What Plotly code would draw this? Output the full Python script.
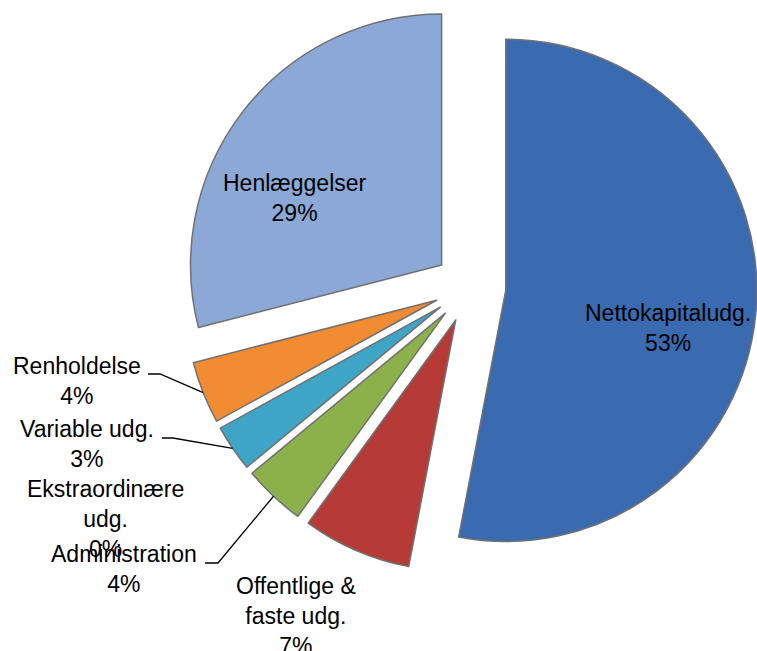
import math
import plotly.graph_objects as go

# ---- data ----
labels = ["Nettokapitaludg.", "Offentlige & faste udg.", "Administration",
          "Ekstraordinære udg.", "Variable udg.", "Renholdelse", "Henlæggelser"]
values = [53, 7, 4, 0, 3, 4, 29]
label_text = ["Nettokapitaludg.", "Offentlige &<br>faste udg.", "Administration",
              "Ekstraordinære<br>udg.", "Variable udg.", "Renholdelse", "Henlæggelser"]
colors = ["#3A6BB0", "#B63B37", "#8DB14A", "#8064A2", "#3EA5C6", "#F28C33", "#8CA8D6"]

# ---- layout constants ----
W, H = 757, 651
PULL = 0.143
CX, CY = 470.0, 287.0      # pie centre in pixels (from top-left)
HALF = 287.0               # half size of pie domain in pixels
R = HALF / (1 + PULL)
FONT = "Liberation Sans, Arial, sans-serif"
FS = 23

dom_x = [(CX - HALF) / W, min(1.0, (CX + HALF) / W)]
dom_y = [max(0.0, 1 - (CY + HALF) / H), min(1.0, 1 - (CY - HALF) / H)]

total = sum(values)
pcts = [round(100 * v / total) for v in values]

fig = go.Figure(go.Pie(
    labels=labels, values=values, sort=False, direction="clockwise", rotation=0,
    pull=[PULL] * len(values),
    marker=dict(colors=colors,
                line=dict(color="#707070", width=[0 if v == 0 else 1.5 for v in values])),
    textinfo="none", hoverinfo="skip", domain=dict(x=dom_x, y=dom_y),
    showlegend=False,
))

def px2paper(x, y):
    return x / W, 1 - y / H

# label block centres (pixels), per slice
label_pos = {
    "Nettokapitaludg.": (668, 328),
    "Henlæggelser": (295, 198),
    "Renholdelse": (77, 381),
    "Variable udg.": (87, 444),
    "Ekstraordinære udg.": (105, 519),
    "Administration": (124, 569),
    "Offentlige & faste udg.": (296, 616),
}
# leader lines: start of horizontal stub (pixels) next to the label
leader_start = {
    "Renholdelse": (148, 374, 160),
    "Variable udg.": (162, 438, 173),
    "Administration": (205, 563, 218),
}

annotations = []
shapes = []
cum = 0.0
for lab, txt, v, p in zip(labels, label_text, values, pcts):
    mid = (cum + v / 2) / total * 360.0
    cum += v
    x, y = label_pos[lab]
    xp, yp = px2paper(x, y)
    annotations.append(dict(
        x=xp, y=yp, xref="paper", yref="paper", xanchor="center", yanchor="middle",
        text=f"{txt}<br>{p}%", showarrow=False, align="center",
        font=dict(family=FONT, size=FS, color="#000000"),
    ))
    if lab in leader_start:
        sx, sy, kx = leader_start[lab]
        th = math.radians(mid)
        ex = CX + R * (1 + PULL) * math.sin(th)
        ey = CY - R * (1 + PULL) * math.cos(th)
        a = px2paper(sx, sy)
        b = px2paper(kx, sy)
        c = px2paper(ex, ey)
        shapes.append(dict(
            type="path", xref="paper", yref="paper",
            path=f"M {a[0]},{a[1]} L {b[0]},{b[1]} L {c[0]},{c[1]}",
            line=dict(color="#000000", width=1.3),
        ))

fig.update_layout(
    width=W, height=H, margin=dict(l=0, r=0, t=0, b=0),
    paper_bgcolor="white", plot_bgcolor="white",
    annotations=annotations, shapes=shapes,
)

fig.write_html("out.html", config={"displayModeBar": False},
               post_script="document.body.style.margin='0px';document.body.style.overflow='hidden';")
